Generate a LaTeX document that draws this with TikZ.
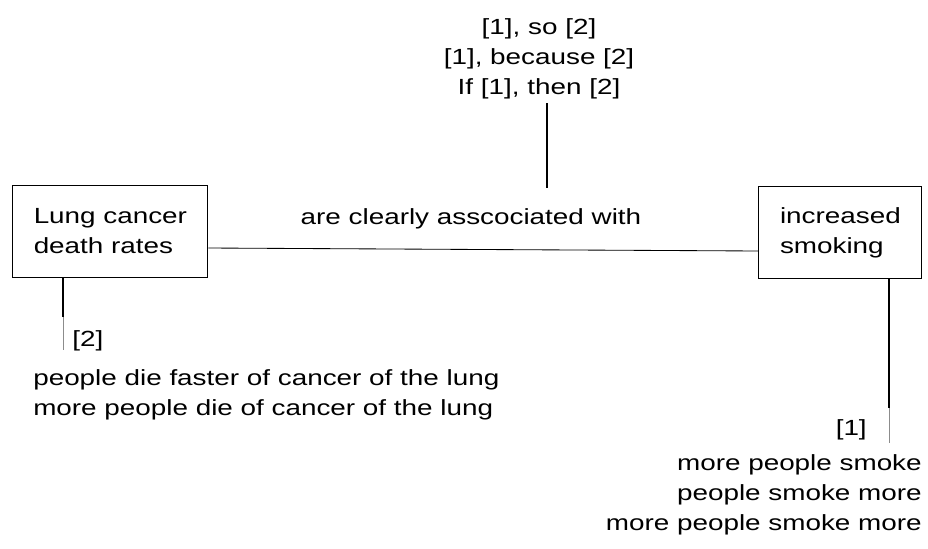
\documentclass[tikz,border=0pt]{standalone}
\usepackage{fontspec}
\setmainfont[FakeStretch=1.27]{Liberation Sans}
\definecolor{tailGray}{gray}{0.55}

\begin{document}
\begin{tikzpicture}[
    txt/.style={font=\fontsize{15.6}{21.3}\selectfont, inner sep=0pt},
    box/.style={txt, draw, line width=0.7pt, align=left, minimum width=#1, minimum height=2.3cm},
    link/.style={line width=0.8pt},
    tail/.style={line width=0.6pt, tailGray},
]
\useasboundingbox (0, 0) rectangle (23.2, -13.7);

% The two claims
\node[box=4.875cm] (lung) at (2.76, -5.775) {Lung cancer\\death rates};
\node[box=4.075cm] (smoke) at (21.01, -5.81) {increased\\smoking};

% Relation between them
\node[txt] (rel) at (11.775, -5.475) {are clearly asscociated with};
\draw[line width=0.6pt] ([yshift=-0.425cm]lung.east) -- ([yshift=-0.465cm]smoke.west);

% Sentence patterns above the relation
\node[txt, align=center] (forms) at (13.475, -1.475)
    {{[1], so [2]}\\{[1], because [2]}\\{If [1], then [2]}};
\coordinate (formsEnd) at (13.675, -4.7);
\draw[link] (forms.south -| formsEnd) ++(0, -0.1) -- (formsEnd);

% Readings of the left claim
\coordinate (lungMid) at (1.575, -7.925);
\coordinate (lungEnd) at (1.575, -8.75);
\draw[link] (lung.south -| lungMid) -- (lungMid);
\draw[tail] (lungMid) -- (lungEnd);
\node[txt, anchor=west] (lungTag) at (1.8, -8.525) {[2]};
\node[txt, align=left, anchor=west] (lungRead) at (0.825, -9.875)
    {people die faster of cancer of the lung\\more people die of cancer of the lung};

% Readings of the right claim
\coordinate (smokeMid) at (22.225, -10.2);
\coordinate (smokeEnd) at (22.225, -11.075);
\draw[link] (smoke.south -| smokeMid) -- (smokeMid);
\draw[tail] (smokeMid) -- (smokeEnd);
\node[txt, anchor=east] (smokeTag) at (21.675, -10.75) {[1]};
\node[txt, align=right, anchor=east] (smokeRead) at (23.05, -12.375)
    {more people smoke\\people smoke more\\more people smoke more};

\end{tikzpicture}
\end{document}
